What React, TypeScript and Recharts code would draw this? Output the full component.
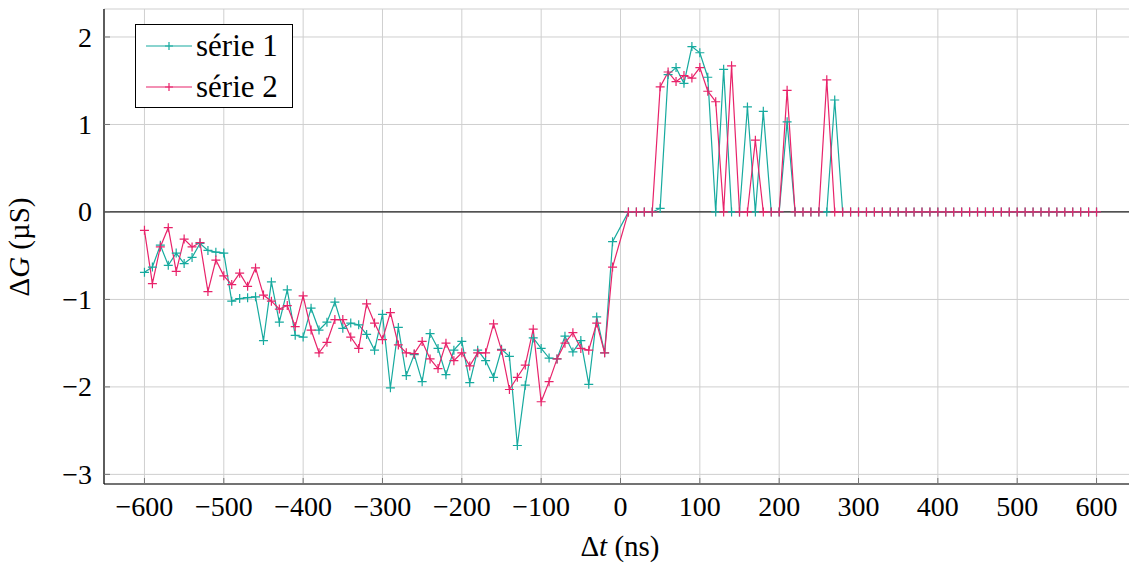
import React from 'react';
import { LineChart, Line, XAxis, YAxis, CartesianGrid, ReferenceLine } from 'recharts';

// time grid in ns (no sample at 0)
const times = [...Array(121)].map((_, i) => -600 + i * 10).filter((t) => t !== 0);

const serie1 = [
  -0.69, -0.63, -0.38, -0.61, -0.47, -0.59, -0.52, -0.36, -0.44, -0.46,
  -0.47, -1.02, -0.99, -0.98, -0.97, -1.47, -0.8, -1.26, -0.89, -1.41,
  -1.43, -1.1, -1.35, -1.26, -1.03, -1.33, -1.27, -1.29, -1.4, -1.58,
  -1.17, -2.01, -1.32, -1.87, -1.63, -1.94, -1.39, -1.56, -1.86, -1.58,
  -1.48, -1.95, -1.58, -1.7, -1.89, -1.57, -1.65, -2.67, -1.98, -1.44,
  -1.56, -1.67, -1.68, -1.42, -1.6, -1.47, -1.97, -1.2, -1.61, -0.34,
  0, 0, 0, 0, 0.04, 1.57, 1.65, 1.47, 1.89, 1.82,
  1.54, 0, 1.63, 0, 0, 1.2, 0, 1.15, 0, 0,
  1.03, 0, 0, 0, 0, 0, 1.28, 0, 0, 0,
  0, 0, 0, 0, 0, 0, 0, 0, 0, 0,
  0, 0, 0, 0, 0, 0, 0, 0, 0, 0,
  0, 0, 0, 0, 0, 0, 0, 0, 0, 0,
];

const serie2 = [
  -0.21, -0.82, -0.4, -0.18, -0.68, -0.31, -0.4, -0.35, -0.91, -0.55,
  -0.73, -0.83, -0.7, -0.85, -0.64, -0.95, -1.02, -1.11, -1.07, -1.31,
  -0.96, -1.35, -1.61, -1.49, -1.23, -1.23, -1.43, -1.56, -1.05, -1.27,
  -1.46, -1.15, -1.52, -1.61, -1.62, -1.48, -1.68, -1.79, -1.5, -1.7,
  -1.61, -1.76, -1.61, -1.61, -1.28, -1.58, -2.03, -1.89, -1.75, -1.34,
  -2.17, -1.94, -1.68, -1.5, -1.38, -1.56, -1.58, -1.27, -1.61, -0.63,
  0, 0, 0, 0, 1.43, 1.6, 1.49, 1.56, 1.53, 1.65,
  1.38, 1.26, 0, 1.67, 0, 0, 0.82, 0, 0, 0,
  1.39, 0, 0, 0, 0, 1.51, 0, 0, 0, 0,
  0, 0, 0, 0, 0, 0, 0, 0, 0, 0,
  0, 0, 0, 0, 0, 0, 0, 0, 0, 0,
  0, 0, 0, 0, 0, 0, 0, 0, 0, 0,
];

const xTicks = [-600, -500, -400, -300, -200, -100, 0, 100, 200, 300, 400, 500, 600];
const yTicks = [-3, -2, -1, 0, 1, 2];

const series = [
  { key: 's1', name: 'série 1', color: '#17aa9f' },
  { key: 's2', name: 'série 2', color: '#e8236a' },
];

const data = times.map((t, i) => ({ t, s1: serie1[i], s2: serie2[i] }));

const FONT = "'Liberation Serif', serif";
const TICK_FS = 28;
const TITLE_FS = 29;

const fmt = (v: number) => (v < 0 ? '\u2212' + Math.abs(v) : String(v));

const plusDot = (color: string) => (props: any) => {
  const { cx, cy, index } = props;
  if (cx == null || cy == null) return <g key={index} />;
  return (
    <path
      key={index}
      d={`M${cx - 4.5},${cy}h9M${cx},${cy - 4.5}v9`}
      stroke={color}
      strokeWidth={1.2}
      fill="none"
    />
  );
};

const XTick = (props: any) => {
  const { x, y, payload } = props;
  return (
    <text x={x} y={y} dy="0.72em" textAnchor="middle" fill="#000" style={{ fontFamily: FONT, fontSize: TICK_FS }}>
      {fmt(payload.value)}
    </text>
  );
};

const YTick = (props: any) => {
  const { x, y, payload } = props;
  return (
    <text x={x} y={y} dy="0.34em" textAnchor="end" fill="#000" style={{ fontFamily: FONT, fontSize: TICK_FS }}>
      {fmt(payload.value)}
    </text>
  );
};

const ChartLegend = () => (
  <div
    style={{
      position: 'absolute',
      left: 135,
      top: 24,
      width: 156,
      height: 82,
      border: '1px solid #000',
      background: '#fff',
      fontFamily: FONT,
      fontSize: 31,
      boxSizing: 'content-box',
    }}
  >
    {series.map((s, i) => (
      <div key={s.key} style={{ position: 'absolute', left: 0, top: 2 + i * 41, height: 38, display: 'flex', alignItems: 'center' }}>
        <svg width={58} height={20} style={{ display: 'block' }}>
          <line x1={10} y1={10} x2={56} y2={10} stroke={s.color} strokeWidth={1.2} />
          <path d="M33,6v8M29,10h8" stroke={s.color} strokeWidth={1.2} />
        </svg>
        <span style={{ marginLeft: 2, lineHeight: '38px', whiteSpace: 'nowrap' }}>{s.name}</span>
      </div>
    ))}
  </div>
);

const AxisTitles = () => (
  <svg width={1129} height={565} style={{ position: 'absolute', left: 0, top: 0, pointerEvents: 'none' }}>
    <text x={620} y={556} textAnchor="middle" fill="#000" style={{ fontFamily: FONT, fontSize: TITLE_FS }}>
      Δ<tspan fontStyle="italic">t</tspan> (ns)
    </text>
    <text x={29} y={247} textAnchor="middle" fill="#000" transform="rotate(-90 29 247)" style={{ fontFamily: FONT, fontSize: TITLE_FS }}>
      Δ<tspan fontStyle="italic">G</tspan> (µS)
    </text>
  </svg>
);

export default function App() {
  return (
    <div style={{ position: 'absolute', left: 0, top: 0, width: 1129, height: 565, overflow: 'hidden', background: '#fff' }}>
      <LineChart width={1140} height={565} data={data} margin={{ top: 9, right: 3, bottom: 21, left: 0 }}>
        <CartesianGrid stroke="#cfcfcf" strokeWidth={1} />
        <XAxis
          dataKey="t"
          type="number"
          domain={[-651, 651]}
          ticks={xTicks}
          height={60}
          tickSize={-6}
          tickMargin={18}
          tick={<XTick />}
          axisLine={{ stroke: '#000', strokeWidth: 1.2 }}
          tickLine={{ stroke: '#777' }}
          allowDataOverflow
        />
        <XAxis
          xAxisId="top"
          orientation="top"
          dataKey="t"
          type="number"
          domain={[-651, 651]}
          ticks={xTicks}
          tick={false}
          height={0}
          axisLine={{ stroke: '#000', strokeWidth: 1.2 }}
        />
        <YAxis
          type="number"
          domain={[-3.11, 2.32]}
          ticks={yTicks}
          width={104}
          tickSize={-6}
          tickMargin={18}
          tick={<YTick />}
          axisLine={{ stroke: '#000', strokeWidth: 1.2 }}
          tickLine={{ stroke: '#777' }}
          allowDataOverflow
        />
        <ReferenceLine y={0} stroke="#222" strokeWidth={1.2} />
        {series.map((s) => (
          <Line
            key={s.key}
            dataKey={s.key}
            name={s.name}
            stroke={s.color}
            strokeWidth={1.2}
            dot={plusDot(s.color)}
            activeDot={false}
            isAnimationActive={false}
            type="linear"
          />
        ))}
      </LineChart>
      <AxisTitles />
      <ChartLegend />
    </div>
  );
}
